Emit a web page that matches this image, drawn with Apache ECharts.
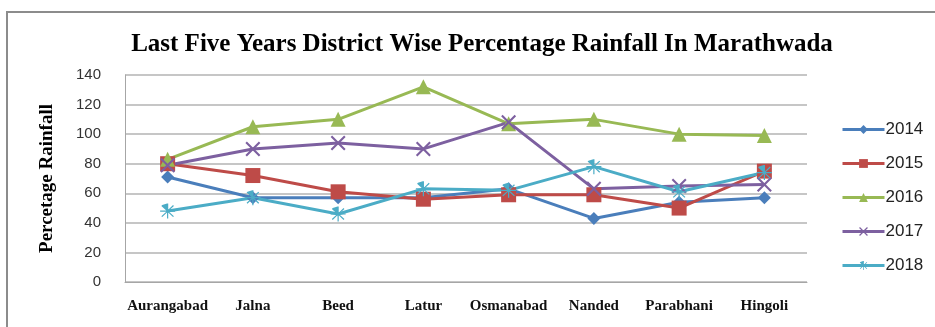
<!DOCTYPE html>
<html>
<head>
<meta charset="utf-8">
<script src="https://cdn.jsdelivr.net/npm/echarts@6/dist/echarts.min.js"></script>
<style>
  html, body { margin: 0; padding: 0; background: #fff; }
  #chart { width: 935px; height: 327px; }
</style>
</head>
<body>
<div id="chart"></div>
<script>
const districts = ["Aurangabad", "Jalna", "Beed", "Latur", "Osmanabad", "Nanded", "Parabhani", "Hingoli"];
const y2014 = [71, 57, 57, 57, 63, 43, 54, 57];
const y2015 = [80, 72, 61, 56, 59, 59, 50, 75];
const y2016 = [83, 105, 110, 132, 107, 110, 100, 99];
const y2017 = [79, 90, 94, 90, 108, 63, 65, 66];
const y2018 = [48, 57, 46, 63, 62, 78, 61, 74];
const yTicks = [0, 20, 40, 60, 80, 100, 120, 140];

// X shaped marker and asterisk marker
const xMark = "path://M1,0L5,4L9,0L10,1L6,5L10,9L9,10L5,6L1,10L0,9L4,5L0,1Z";
const starMark = "path://M4.6,0H5.4V4.1L8.6,1L9.2,1.6L5.9,4.6H10V5.4H5.9L9.2,8.4L8.6,9L5.4,5.9V10H4.6V5.9L1.4,9L0.8,8.4L4.1,5.4H0V4.6H4.1L0.8,1.6L1.4,1Z";

const chart = echarts.init(document.getElementById("chart"));

function mkSeries(name, data, color, symbol, size) {
  return {
    name: name,
    type: "line",
    data: data,
    symbol: symbol,
    symbolSize: size,
    lineStyle: { color: color, width: 3 },
    itemStyle: { color: color, borderWidth: 0 },
    emphasis: { disabled: true },
  };
}

const option = {
  animation: false,
  title: {
    text: "Last Five Years District Wise Percentage Rainfall In Marathwada",
    left: 477,
    textAlign: "center",
    top: 27,
    textStyle: {
      fontFamily: "Liberation Serif",
      fontWeight: "bold",
      fontSize: 25,
      color: "#000",
    },
  },
  graphic: [
    {
      type: "rect",
      shape: { x: 7, y: 12, width: 940, height: 330 },
      style: { fill: "none", stroke: "#8c8c8c", lineWidth: 2 },
      z: -1,
    },
  ],
  legend: {
    orient: "vertical",
    left: 836,
    top: 116,
    itemWidth: 42,
    itemHeight: 11,
    itemGap: 17,
    lineStyle: { width: 3 },
    textStyle: { fontFamily: "Liberation Sans", fontSize: 17, color: "#222", padding: [0, 0, 0, -4] },
    data: ["2014", "2015", "2016", "2017", "2018"],
  },
  grid: { left: 125, right: 128, top: 75, bottom: 45 },
  xAxis: {
    type: "category",
    data: districts,
    boundaryGap: true,
    axisLine: { lineStyle: { color: "#a6a6a6", width: 1 } },
    axisTick: { show: false },
    axisLabel: {
      interval: 0,
      margin: 17,
      fontFamily: "Liberation Serif",
      fontWeight: "bold",
      fontSize: 15,
      color: "#111",
    },
  },
  yAxis: {
    type: "value",
    min: 0,
    max: 140,
    interval: 20,
    name: "Percetage Rainfall",
    nameLocation: "middle",
    nameGap: 68,
    nameTextStyle: {
      fontFamily: "Liberation Serif",
      fontWeight: "bold",
      fontSize: 19,
      color: "#000",
    },
    axisLine: { show: true, lineStyle: { color: "#a6a6a6" } },
    axisTick: { show: false },
    splitLine: { lineStyle: { color: "#b3b3b3", width: 1.5 } },
    axisLabel: {
      margin: 24,
      fontFamily: "Liberation Sans",
      fontSize: 15,
      color: "#333",
      formatter: (v) => (yTicks.indexOf(v) >= 0 ? String(v) : ""),
    },
  },
  series: [
    mkSeries("2014", y2014, "#4a7ebb", "diamond", 13),
    mkSeries("2015", y2015, "#be4b48", "rect", 15),
    mkSeries("2016", y2016, "#98b954", "triangle", 15),
    mkSeries("2017", y2017, "#7d60a0", xMark, 15),
    mkSeries("2018", y2018, "#4bacc6", starMark, 15),
  ],
};

chart.setOption(option);
</script>
</body>
</html>
